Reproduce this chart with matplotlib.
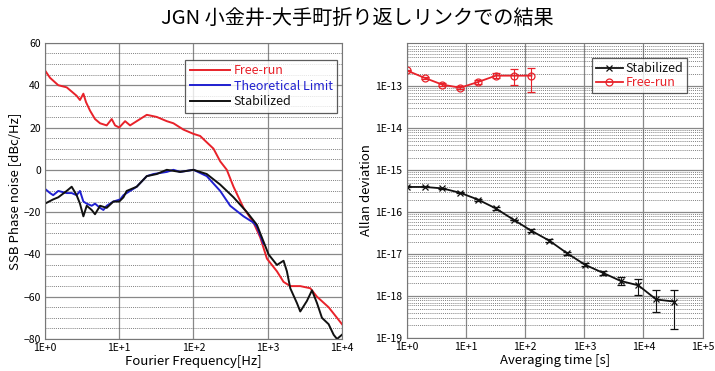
import matplotlib
matplotlib.use("Agg")
import matplotlib.pyplot as plt
from matplotlib.lines import Line2D
from matplotlib.ticker import LogLocator, FixedLocator, MultipleLocator, NullFormatter, FuncFormatter
import numpy as np

plt.rcParams['font.family'] = ['Noto Sans CJK JP', 'DejaVu Sans']

title = "JGN 小金井-大手町折り返しリンクでの結果"

# ---- Left: phase noise ----
free_f = [1.0, 1.17, 1.51, 1.96, 2.29, 2.67, 2.96, 3.29, 3.57, 4.04, 4.72, 5.52, 6.78, 7.92, 8.79,
          10.0, 12.0, 14.0, 17.2, 23.5, 32.0, 43.7, 53.7, 73.3, 100, 123, 151, 186, 229, 281, 346,
          472, 644, 793, 975, 1330, 1633, 2011, 2742, 3741, 4604, 6607, 8570, 10000]
free_db = [47, 43.5, 40, 39, 37, 35, 33, 36, 32, 28, 24, 22, 21, 24, 21,
           20, 23, 21, 23, 26, 25, 23, 22, 19, 17, 16, 13, 10, 4, 0, -8,
           -18, -25, -32, -42, -48, -53, -55, -55, -56, -60, -65, -70, -73]

theo_f = [1.0, 1.17, 1.29, 1.51, 1.96, 2.29, 2.67, 2.96, 3.29, 3.65, 4.26, 4.72, 5.52, 6.12, 6.78,
          8.34, 10.3, 11.4, 12.6, 17.2, 23.5, 28.9, 43.7, 53.7, 66.1, 100, 151, 229, 312, 472,
          644, 714, 793, 879]
theo_db = [-9, -11, -12, -10, -11, -11, -12, -10, -15, -16, -17, -16, -18, -19, -17,
           -15, -14, -12, -11, -8, -3, -2, -1, 0, -1, 0, -3, -10, -17, -22,
           -25, -27, -31, -35]

stab_f = [1.0, 1.29, 1.51, 1.96, 2.29, 2.67, 2.96, 3.29, 3.65, 4.26, 4.72, 5.52, 6.78, 8.34, 10.0,
          11.4, 12.6, 17.2, 23.5, 32.0, 43.7, 66.1, 100, 151, 229, 346, 524, 714, 879, 1026, 1330,
          1633, 1812, 2011, 2472, 2742, 3372, 3944, 4604, 5373, 6607, 7723, 8570, 10000]
stab_db = [-16, -14, -13, -10, -8, -12, -16, -22, -17, -19, -21, -17, -18, -15, -15,
           -13, -10, -8, -3, -2, 0, -1, 0, -2, -7, -13, -20, -26, -34, -40, -45,
           -43, -48, -56, -63, -67, -62, -57, -63, -70, -73, -78, -80, -78]

# ---- Right: Allan deviation ----
tau_free = [1, 2, 4, 8, 16, 32, 64, 128]
adev_free = [2.4e-13, 1.6e-13, 1.1e-13, 0.93e-13, 1.27e-13, 1.8e-13, 1.8e-13, 1.8e-13]
adev_free_lo = [0.1e-13, 0.1e-13, 0.08e-13, 0.08e-13, 0.12e-13, 0.25e-13, 0.75e-13, 1.06e-13]
adev_free_hi = [0.1e-13, 0.1e-13, 0.08e-13, 0.08e-13, 0.12e-13, 0.3e-13, 0.8e-13, 0.9e-13]

tau_stab = [1, 2, 4, 8, 16, 32, 64, 128, 256, 512, 1024, 2048, 4096, 8192, 16384, 32768]
adev_stab = [4.0e-16, 4.0e-16, 3.7e-16, 2.9e-16, 2.0e-16, 1.23e-16, 6.6e-17, 3.6e-17, 2.1e-17,
             1.05e-17, 5.6e-18, 3.6e-18, 2.3e-18, 1.8e-18, 8.3e-19, 7.4e-19]
adev_stab_lo = [0.1e-16, 0.1e-16, 0.1e-16, 0.1e-16, 0.1e-16, 0.08e-16, 0.05e-17, 0.3e-17, 0.2e-17,
                0.1e-17, 0.5e-18, 0.4e-18, 0.5e-18, 0.75e-18, 4.2e-19, 5.8e-19]
adev_stab_hi = [0.1e-16, 0.1e-16, 0.1e-16, 0.1e-16, 0.1e-16, 0.08e-16, 0.05e-17, 0.3e-17, 0.2e-17,
                0.1e-17, 0.5e-18, 0.4e-18, 0.6e-18, 0.8e-18, 5.7e-19, 6.6e-19]

RED = '#e8222a'
BLUE = '#2020d0'
BLACK = '#111111'

fig = plt.figure(figsize=(7.15, 3.71), dpi=100)
fig.text(0.5, 0.951, title, ha='center', va='center', fontsize=14.5)

def sci_fmt(v, pos):
    e = int(round(np.log10(v)))
    return "1E+%d" % e if e >= 0 else "1E%d" % e

grid_major = dict(color='#888888', linewidth=0.9, linestyle='-')
grid_minor = dict(color='#555555', linewidth=0.5, linestyle=(0, (1.5, 1.5)))

# Left axes
ax1 = fig.add_axes([0.0629, 0.0863, 0.4154, 0.798])
ax1.set_xscale('log')
ax1.set_xlim(1, 1e4)
ax1.set_ylim(-80, 60)
ax1.plot(free_f, free_db, color=RED, lw=1.4, label='Free-run')
ax1.plot(theo_f, theo_db, color=BLUE, lw=1.4, label='Theoretical Limit')
ax1.plot(stab_f, stab_db, color=BLACK, lw=1.4, label='Stabilized')
ax1.xaxis.set_major_locator(FixedLocator([1, 10, 100, 1000, 10000]))
ax1.xaxis.set_major_formatter(FuncFormatter(sci_fmt))
ax1.xaxis.set_minor_locator(FixedLocator([]))
ax1.yaxis.set_major_locator(MultipleLocator(20))
ax1.yaxis.set_minor_locator(MultipleLocator(5))
ax1.grid(True, which='major', **grid_major)
ax1.grid(True, which='minor', axis='y', **grid_minor)
ax1.set_axisbelow(True)
ax1.tick_params(which='both', length=0, labelsize=7.5, pad=3)
ax1.set_xlabel('Fourier Frequency[Hz]', fontsize=9.5, labelpad=1)
ax1.set_ylabel('SSB Phase noise [dBc/Hz]', fontsize=9.5, labelpad=2)
for s in ax1.spines.values():
    s.set_color('#777777')
leg1 = ax1.legend(loc='upper right', bbox_to_anchor=(1.0, 0.96), fontsize=9, frameon=True,
                  fancybox=False, edgecolor='#333333', borderpad=0.35, labelspacing=0.2,
                  handlelength=3.2, handletextpad=0.3, borderaxespad=0.4)
leg1.get_frame().set_linewidth(0.9)
for txt, c in zip(leg1.get_texts(), [RED, BLUE, BLACK]):
    txt.set_color(c)

# Right axes
ax2 = fig.add_axes([0.5688, 0.0889, 0.414, 0.796])
ax2.set_xscale('log')
ax2.set_yscale('log')
ax2.set_xlim(1, 1e5)
ax2.set_ylim(1e-19, 1.1e-12)
ax2.errorbar(tau_stab, adev_stab, yerr=[adev_stab_lo, adev_stab_hi], color=BLACK, lw=1.3,
             marker='x', ms=5, mew=0.9, capsize=3, elinewidth=0.8, capthick=0.8)
ax2.errorbar(tau_free, adev_free, yerr=[adev_free_lo, adev_free_hi], color=RED, lw=1.3,
             marker='o', ms=5, mfc='none', mew=0.9, capsize=3, elinewidth=0.8, capthick=0.8)
ax2.xaxis.set_major_locator(FixedLocator([1, 10, 100, 1e3, 1e4, 1e5]))
ax2.xaxis.set_major_formatter(FuncFormatter(sci_fmt))
ax2.xaxis.set_minor_locator(FixedLocator([]))
ax2.yaxis.set_major_locator(FixedLocator([1e-19, 1e-18, 1e-17, 1e-16, 1e-15, 1e-14, 1e-13]))
ax2.yaxis.set_major_formatter(FuncFormatter(sci_fmt))
ax2.yaxis.set_minor_locator(LogLocator(base=10, subs=np.arange(2, 10), numticks=20))
ax2.yaxis.set_minor_formatter(NullFormatter())
ax2.grid(True, which='major', **grid_major)
ax2.grid(True, which='minor', axis='y', **grid_minor)
ax2.set_axisbelow(True)
ax2.tick_params(which='both', length=0, labelsize=7.5, pad=3)
ax2.set_xlabel('Averaging time [s]', fontsize=9.5, labelpad=1)
ax2.set_ylabel('Allan deviation', fontsize=9.5, labelpad=2)
for s in ax2.spines.values():
    s.set_color('#777777')
handles2 = [Line2D([], [], color=BLACK, lw=1.3, marker='x', ms=5, mew=0.9),
            Line2D([], [], color=RED, lw=1.3, marker='o', ms=5, mfc='none', mew=0.9)]
leg2 = ax2.legend(handles2, ['Stabilized', 'Free-run'], loc='upper right',
                  bbox_to_anchor=(0.96, 0.96), fontsize=9, frameon=True,
                  fancybox=False, edgecolor='#333333', borderpad=0.3, labelspacing=0.1,
                  handlelength=2.2, handletextpad=0.2, borderaxespad=0.3)
leg2.get_frame().set_linewidth(0.9)
for txt, c in zip(leg2.get_texts(), [BLACK, RED]):
    txt.set_color(c)

fig.savefig('out.png', dpi=100)
